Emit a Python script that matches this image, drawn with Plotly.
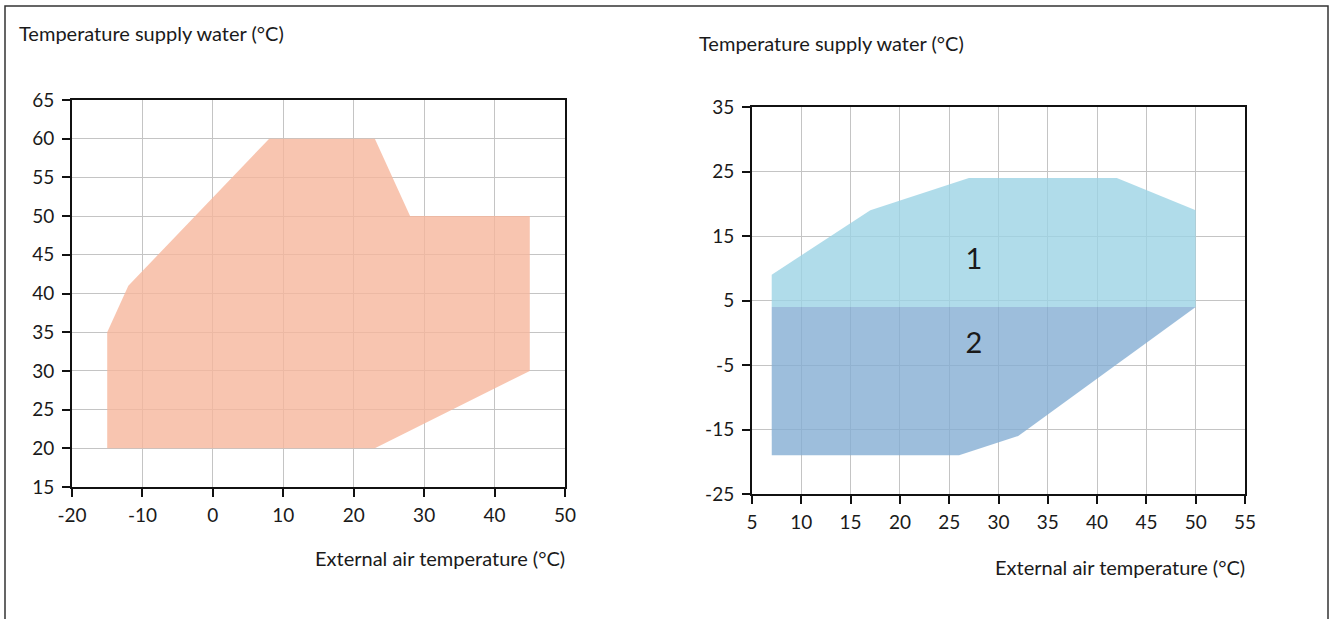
import plotly.graph_objects as go

W, H = 1331, 619

# left chart - heating envelope
heat_x = [-15, -15, -12, 8, 23, 28, 45, 45, 23, -15]
heat_y = [20, 35, 41, 60, 60, 50, 50, 30, 20, 20]

# right chart - cooling envelope, zone 1 and zone 2
zone1_x = [7, 7, 17, 27, 42, 50, 50, 7]
zone1_y = [4, 9, 19, 24, 24, 19, 4, 4]
zone2_x = [7, 50, 32, 26, 7, 7]
zone2_y = [4, 4, -16, -19, -19, 4]
zone_labels = ["1", "2"]
zone_label_x = [27.5, 27.5]
zone_label_y = [11, -2]

left_xticks = [-20, -10, 0, 10, 20, 30, 40, 50]
left_yticks = [15, 20, 25, 30, 35, 40, 45, 50, 55, 60, 65]
right_xticks = [5, 10, 15, 20, 25, 30, 35, 40, 45, 50, 55]
right_yticks = [-25, -15, -5, 5, 15, 25, 35]

y_title = "Temperature supply water (°C)"
x_title = "External air temperature (°C)"

FONT = "Lato"
TXT = "#1a1a1a"


def px_x(p):
    return p / W


def px_y(p):
    return 1 - p / H


def labels(vals):
    # plain hyphen instead of plotly's unicode minus
    return [str(v) for v in vals]


fig = go.Figure()

fig.add_trace(go.Scatter(x=heat_x, y=heat_y, mode="lines", fill="toself",
                         fillcolor="rgba(246,183,156,0.8)", line=dict(width=0),
                         hoverinfo="skip", showlegend=False, xaxis="x", yaxis="y"))
fig.add_trace(go.Scatter(x=zone1_x, y=zone1_y, mode="lines", fill="toself",
                         fillcolor="rgba(156,211,229,0.8)", line=dict(width=0),
                         hoverinfo="skip", showlegend=False, xaxis="x2", yaxis="y2"))
fig.add_trace(go.Scatter(x=zone2_x, y=zone2_y, mode="lines", fill="toself",
                         fillcolor="rgba(133,174,211,0.8)", line=dict(width=0),
                         hoverinfo="skip", showlegend=False, xaxis="x2", yaxis="y2"))
fig.add_trace(go.Scatter(x=zone_label_x, y=zone_label_y, mode="text", text=zone_labels,
                         textfont=dict(size=29, color=TXT, family=FONT),
                         hoverinfo="skip", showlegend=False, xaxis="x2", yaxis="y2"))

ax_common = dict(showgrid=True, gridcolor="#c4c4c4", gridwidth=1, zeroline=False,
                 showline=True, linecolor="#111", linewidth=2, mirror=True,
                 ticks="outside", ticklen=8, tickwidth=1.5, tickcolor="#111",
                 tickfont=dict(size=19, color=TXT, family=FONT), fixedrange=True,
                 automargin=False, layer="above traces")

fig.update_layout(
    width=W, height=H,
    template="none",
    margin=dict(l=0, r=0, t=0, b=0, pad=0),
    paper_bgcolor="white", plot_bgcolor="white",
    xaxis=dict(domain=[px_x(72), px_x(565)], range=[-20, 50], tickvals=left_xticks,
               ticktext=labels(left_xticks), anchor="y", ticklabelstandoff=2, **ax_common),
    yaxis=dict(domain=[px_y(487), px_y(100)], range=[15, 65], tickvals=left_yticks,
               ticktext=labels(left_yticks), anchor="x", ticklabelstandoff=4, **ax_common),
    xaxis2=dict(domain=[px_x(752), px_x(1245)], range=[5, 55], tickvals=right_xticks,
                ticktext=labels(right_xticks), anchor="y2", ticklabelstandoff=2, **ax_common),
    yaxis2=dict(domain=[px_y(494), px_y(107)], range=[-25, 35], tickvals=right_yticks,
                ticktext=labels(right_yticks), anchor="x2", ticklabelstandoff=4, **ax_common),
)

title_font = dict(size=20, color=TXT, family=FONT)
fig.add_annotation(x=px_x(17), y=px_y(33), xref="paper", yref="paper", text=y_title,
                   showarrow=False, xanchor="left", yanchor="middle", font=title_font)
fig.add_annotation(x=px_x(567), y=px_y(558), xref="paper", yref="paper", text=x_title,
                   showarrow=False, xanchor="right", yanchor="middle", font=title_font)
fig.add_annotation(x=px_x(697), y=px_y(43), xref="paper", yref="paper", text=y_title,
                   showarrow=False, xanchor="left", yanchor="middle", font=title_font)
fig.add_annotation(x=px_x(1247), y=px_y(567), xref="paper", yref="paper", text=x_title,
                   showarrow=False, xanchor="right", yanchor="middle", font=title_font)

# outer frame
fig.add_shape(type="rect", xref="paper", yref="paper",
              x0=px_x(5), x1=px_x(1328), y0=-0.05, y1=px_y(6),
              line=dict(color="#333", width=1.5), fillcolor="rgba(0,0,0,0)")

# drop the default body margin so the figure sits at the page origin
fig.write_html("out.html", config={"displayModeBar": False},
               post_script="document.body.style.margin='0';")
